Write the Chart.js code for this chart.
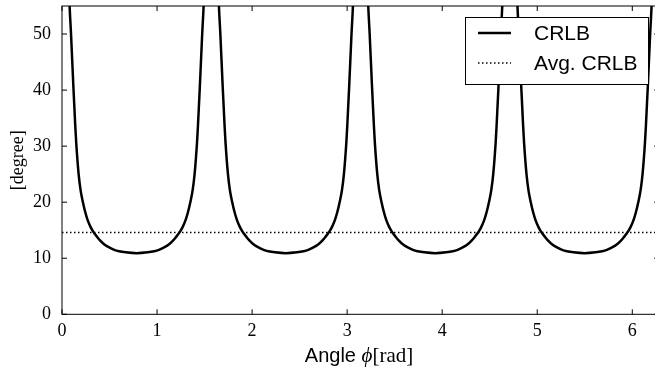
<!DOCTYPE html>
<html>
<head>
<meta charset="utf-8">
<script src="https://cdn.jsdelivr.net/npm/chart.js@4.4.0/dist/chart.umd.min.js"></script>
<style>
  html, body { margin: 0; padding: 0; background: #fff; overflow: hidden; }
  #wrap { width: 655px; height: 375px; overflow: hidden; }
</style>
</head>
<body>
<div id="wrap"><canvas id="crlbChart" width="670" height="375"></canvas></div>
<script>
// angle phi [rad] and CRLB [degree]
const angle = [
  0.06, 0.08, 0.095, 0.12, 0.14, 0.15, 0.175, 0.195, 0.22, 0.245, 0.27, 0.30, 0.33, 0.37, 0.40, 0.45, 0.50, 0.55, 0.60, 0.67,
  0.785, 0.90, 0.97, 1.02, 1.07, 1.12, 1.17, 1.20, 1.24, 1.27, 1.30, 1.325, 1.35, 1.375, 1.395, 1.42, 1.43, 1.45, 1.475, 1.49, 1.51,
  1.631, 1.651, 1.666, 1.691, 1.711, 1.721, 1.746, 1.766, 1.791, 1.816, 1.841, 1.871, 1.901, 1.941, 1.971, 2.021, 2.071, 2.121, 2.171, 2.241,
  2.356, 2.471, 2.541, 2.591, 2.641, 2.691, 2.741, 2.771, 2.811, 2.841, 2.871, 2.896, 2.921, 2.946, 2.966, 2.991, 3.001, 3.021, 3.046, 3.061, 3.081,
  3.202, 3.222, 3.237, 3.262, 3.282, 3.292, 3.317, 3.337, 3.362, 3.387, 3.412, 3.442, 3.472, 3.512, 3.542, 3.592, 3.642, 3.692, 3.742, 3.812,
  3.927, 4.042, 4.112, 4.162, 4.212, 4.262, 4.312, 4.342, 4.382, 4.412, 4.442, 4.467, 4.492, 4.517, 4.537, 4.562, 4.572, 4.592, 4.617, 4.632, 4.652,
  4.772, 4.792, 4.807, 4.832, 4.852, 4.862, 4.887, 4.907, 4.932, 4.957, 4.982, 5.012, 5.042, 5.082, 5.112, 5.162, 5.212, 5.262, 5.312, 5.382,
  5.498, 5.613, 5.683, 5.733, 5.783, 5.833, 5.883, 5.913, 5.953, 5.983, 6.013, 6.038, 6.063, 6.088, 6.108, 6.133, 6.143, 6.163, 6.188, 6.203, 6.223
];
const crlb = [
  65, 55, 50, 40.5, 33.5, 30.5, 25, 22.2, 20, 18.2, 16.8, 15.6, 14.7, 13.8, 13.2, 12.4, 11.9, 11.5, 11.25, 11.05,
  10.9, 11.05, 11.25, 11.5, 11.9, 12.4, 13.2, 13.8, 14.7, 15.6, 16.8, 18.2, 20, 22.2, 25, 30.5, 33.5, 40.5, 50, 55, 65,
  65, 55, 50, 40.5, 33.5, 30.5, 25, 22.2, 20, 18.2, 16.8, 15.6, 14.7, 13.8, 13.2, 12.4, 11.9, 11.5, 11.25, 11.05,
  10.9, 11.05, 11.25, 11.5, 11.9, 12.4, 13.2, 13.8, 14.7, 15.6, 16.8, 18.2, 20, 22.2, 25, 30.5, 33.5, 40.5, 50, 55, 65,
  65, 55, 50, 40.5, 33.5, 30.5, 25, 22.2, 20, 18.2, 16.8, 15.6, 14.7, 13.8, 13.2, 12.4, 11.9, 11.5, 11.25, 11.05,
  10.9, 11.05, 11.25, 11.5, 11.9, 12.4, 13.2, 13.8, 14.7, 15.6, 16.8, 18.2, 20, 22.2, 25, 30.5, 33.5, 40.5, 50, 55, 65,
  65, 55, 50, 40.5, 33.5, 30.5, 25, 22.2, 20, 18.2, 16.8, 15.6, 14.7, 13.8, 13.2, 12.4, 11.9, 11.5, 11.25, 11.05,
  10.9, 11.05, 11.25, 11.5, 11.9, 12.4, 13.2, 13.8, 14.7, 15.6, 16.8, 18.2, 20, 22.2, 25, 30.5, 33.5, 40.5, 50, 55, 65
];
const avgCrlb = 14.6;
const avgRange = [0, 6.2832];
const xTicks = [0, 1, 2, 3, 4, 5, 6];
const yTicks = [0, 10, 20, 30, 40, 50];

const serif = '"Liberation Serif", serif';
const sans = '"Liberation Sans", Arial, sans-serif';

// box, inward ticks on all sides, legend and the mixed-font x label
const framePlugin = {
  id: 'frame',
  afterDatasetsDraw(chart) {
    const ctx = chart.ctx;
    const a = chart.chartArea;
    const xs = chart.scales.x, ys = chart.scales.y;
    ctx.save();
    ctx.strokeStyle = '#000';
    ctx.lineWidth = 1;
    ctx.setLineDash([]);
    ctx.strokeRect(a.left, a.top, a.right - a.left, a.bottom - a.top);
    ctx.beginPath();
    xTicks.forEach(v => {
      const px = xs.getPixelForValue(v);
      ctx.moveTo(px, a.bottom); ctx.lineTo(px, a.bottom - 5);
      ctx.moveTo(px, a.top); ctx.lineTo(px, a.top + 5);
    });
    yTicks.forEach(v => {
      const py = ys.getPixelForValue(v);
      ctx.moveTo(a.left, py); ctx.lineTo(a.left + 5, py);
      ctx.moveTo(a.right, py); ctx.lineTo(a.right - 5, py);
    });
    ctx.stroke();

    // legend
    const bx = 465.5, by = 17.5, bw = 183, bh = 67;
    ctx.fillStyle = '#fff';
    ctx.fillRect(bx, by, bw, bh);
    ctx.strokeRect(bx, by, bw, bh);
    chart.data.datasets.forEach((ds, i) => {
      const y = 33 + i * 30;
      ctx.beginPath();
      ctx.lineWidth = ds.borderWidth;
      ctx.setLineDash(ds.borderDash || []);
      ctx.moveTo(478, y); ctx.lineTo(511, y);
      ctx.stroke();
      ctx.setLineDash([]);
      ctx.fillStyle = '#000';
      ctx.font = '21px ' + sans;
      ctx.textBaseline = 'middle';
      ctx.textAlign = 'left';
      ctx.fillText(ds.label, 534, y + 1);
    });
    ctx.restore();
  },
  afterDraw(chart) {
    const ctx = chart.ctx;
    ctx.save();
    ctx.fillStyle = '#000';
    ctx.textBaseline = 'alphabetic';
    ctx.textAlign = 'left';
    const parts = [
      ['Angle ', '20px ' + sans],
      ['\u03d5', 'italic 21px ' + serif],
      ['[rad]', '21px ' + serif]
    ];
    let total = 0;
    parts.forEach(p => { ctx.font = p[1]; total += ctx.measureText(p[0]).width; });
    let x = 359 - total / 2;
    parts.forEach(p => {
      ctx.font = p[1];
      ctx.fillText(p[0], x, 362);
      x += ctx.measureText(p[0]).width;
    });
    ctx.restore();
  }
};

const ctx = document.getElementById('crlbChart').getContext('2d');
new Chart(ctx, {
  type: 'line',
  data: {
    datasets: [{
      label: 'CRLB',
      data: angle.map((x, i) => ({ x: x, y: crlb[i] })),
      borderColor: '#000',
      borderWidth: 2.5,
      pointRadius: 0,
      cubicInterpolationMode: 'monotone',
      fill: false
    }, {
      label: 'Avg. CRLB',
      data: avgRange.map(x => ({ x: x, y: avgCrlb })),
      borderColor: '#000',
      borderWidth: 1.5,
      borderDash: [1.5, 2.5],
      pointRadius: 0,
      fill: false
    }]
  },
  options: {
    responsive: false,
    animation: false,
    layout: { padding: { top: 6, right: 10.8, left: 0, bottom: 0 } },
    plugins: {
      legend: { display: false },
      tooltip: { enabled: false }
    },
    scales: {
      x: {
        type: 'linear',
        min: 0,
        max: 6.2832,
        afterBuildTicks: s => { s.ticks = xTicks.map(v => ({ value: v })); },
        afterFit: s => { s.height = 60.7; s.paddingLeft = 0; s.paddingRight = 0; },
        grid: { display: false, drawTicks: false },
        border: { display: false },
        ticks: {
          autoSkip: false, maxRotation: 0, padding: 6,
          color: '#000', font: { family: serif, size: 18 }
        }
      },
      y: {
        min: 0,
        max: 55,
        afterBuildTicks: s => { s.ticks = yTicks.map(v => ({ value: v })); },
        afterFit: s => { s.width = 62; s.paddingTop = 0; s.paddingBottom = 0; },
        grid: { display: false, drawTicks: false },
        border: { display: false },
        ticks: {
          padding: 11, color: '#000', font: { family: serif, size: 18 }
        },
        title: {
          display: true, text: '[degree]', color: '#000',
          font: { family: serif, size: 18 },
          padding: { top: 7, bottom: 0 }
        }
      }
    }
  },
  plugins: [framePlugin]
});
</script>
</body>
</html>
